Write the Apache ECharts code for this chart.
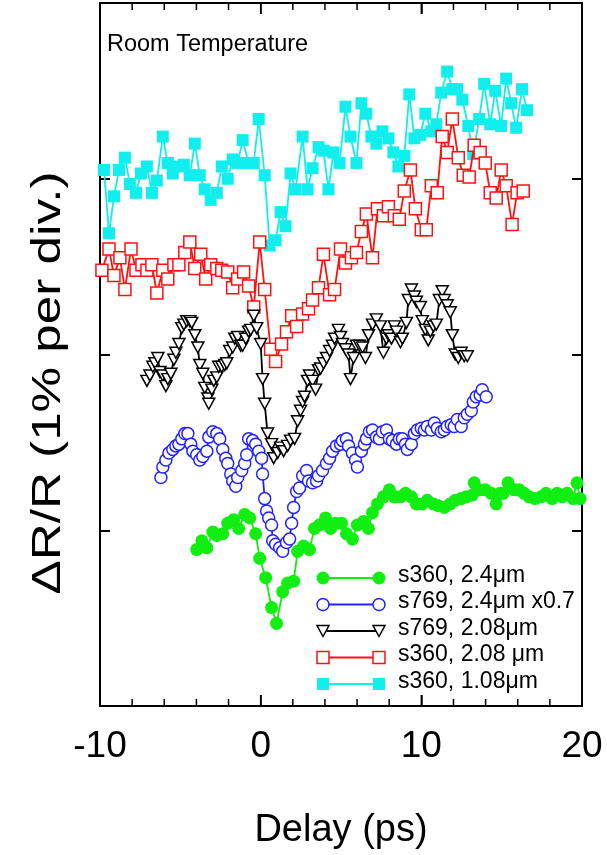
<!DOCTYPE html>
<html>
<head>
<meta charset="utf-8">
<script src="https://cdn.jsdelivr.net/npm/echarts@6/dist/echarts.min.js"></script>
<style>
html,body{margin:0;padding:0;background:#fff;}
#main{width:607px;height:855px;}
</style>
</head>
<body>
<div id="main"></div>
<script>
// s360, 1.08um (filled squares)
var delayCyan = [-9.75,-9.44,-9.13,-8.82,-8.45,-8.14,-7.76,-7.45,-7.08,-6.77,-6.46,-6.09,-5.78,-5.47,-5.09,-4.78,-4.41,-4.10,-3.79,-3.48,-3.11,-2.73,-2.42,-2.05,-1.74,-1.43,-1.12,-0.75,-0.43,-0.12,0.25,0.56,0.93,1.24,1.55,1.86,2.17,2.61,2.92,3.23,3.60,3.91,4.22,4.53,4.91,5.28,5.59,5.96,6.27,6.58,6.89,7.20,7.58,7.95,8.26,8.57,8.94,9.25,9.57,9.94,10.25,10.62,10.93,11.24,11.61,11.93,12.24,12.55,12.92,13.23,13.60,13.91,14.29,14.60,14.97,15.28,15.59,15.90,16.27,16.58];
var valCyan = [3.05,2.69,2.90,3.05,3.12,2.97,2.92,3.03,3.07,2.92,2.99,3.24,3.09,3.03,3.07,3.08,3.02,3.20,3.02,2.94,2.88,2.92,3.07,3.00,3.11,3.09,3.22,3.09,3.09,3.34,3.02,2.62,2.65,2.81,2.73,3.03,2.94,3.24,2.94,3.06,3.18,3.16,2.94,3.15,3.09,3.41,3.24,3.09,3.43,3.37,3.24,3.20,3.27,3.23,3.15,3.07,3.13,3.48,3.23,3.25,3.37,3.27,3.31,3.49,3.61,3.51,3.51,3.45,3.30,3.14,3.34,3.54,3.31,3.50,3.30,3.57,3.43,3.29,3.51,3.39];

// s360, 2.08 um (open squares)
var delayRed = [-9.88,-9.44,-9.13,-8.76,-8.45,-8.07,-7.76,-7.39,-7.08,-6.77,-6.46,-6.09,-5.78,-5.40,-5.09,-4.72,-4.41,-4.10,-3.73,-3.42,-3.11,-2.73,-2.42,-2.05,-1.74,-1.43,-1.06,-0.75,-0.43,-0.06,0.25,0.62,0.93,1.30,1.61,1.93,2.24,2.61,2.98,3.23,3.60,3.91,4.29,4.60,4.97,5.28,5.65,5.96,6.27,6.58,6.96,7.27,7.64,7.95,8.32,8.63,8.94,9.32,9.63,10.00,10.31,10.62,10.99,11.30,11.61,11.93,12.30,12.61,12.98,13.29,13.66,13.98,14.29,14.66,14.97,15.28,15.65,15.96,16.34];
var valRed = [2.48,2.60,2.45,2.55,2.37,2.60,2.48,2.51,2.48,2.51,2.35,2.48,2.43,2.51,2.51,2.58,2.64,2.49,2.57,2.43,2.51,2.49,2.48,2.47,2.38,2.43,2.47,2.39,2.27,2.64,2.37,2.03,1.96,2.06,2.13,2.22,2.16,2.23,2.26,2.31,2.38,2.57,2.34,2.37,2.60,2.52,2.55,2.58,2.70,2.80,2.55,2.83,2.79,2.84,2.79,2.77,2.93,3.05,2.83,2.71,2.71,2.96,2.92,3.24,3.15,3.34,3.12,3.02,3.01,3.19,3.15,3.09,2.92,2.89,3.05,2.96,2.74,2.92,2.93];

// s769, 2.08um (open down triangles)
var delayBlack = [-7.08,-6.89,-6.71,-6.58,-6.40,-6.27,-6.09,-5.90,-5.78,-5.59,-5.40,-5.28,-5.09,-4.91,-4.78,-4.60,-4.41,-4.29,-4.10,-3.91,-3.79,-3.60,-3.48,-3.29,-3.23,-3.04,-2.92,-2.73,-2.61,-2.42,-2.24,-2.11,-1.93,-1.74,-1.61,-1.43,-1.24,-1.12,-0.93,-0.75,-0.62,-0.43,-0.25,0.00,0.12,0.25,0.43,0.68,0.81,1.06,1.24,1.43,1.68,1.86,2.11,2.30,2.48,2.61,2.73,2.92,3.04,3.23,3.42,3.60,3.73,3.91,4.10,4.29,4.47,4.60,4.84,4.97,5.09,5.28,5.47,5.59,5.78,5.96,6.15,6.34,6.52,6.71,6.96,7.20,7.45,7.64,7.83,7.95,8.14,8.32,8.45,8.70,8.82,9.07,9.19,9.38,9.57,9.69,9.94,10.06,10.25,10.43,10.56,10.75,10.93,11.12,11.30,11.43,11.61,11.80,11.93,12.11,12.30,12.48,12.67,12.86];
var valBlack = [1.85,1.88,1.93,1.95,1.98,1.90,1.88,1.82,1.86,1.89,1.97,2.01,2.06,2.15,2.17,2.19,2.19,2.18,2.11,2.04,1.94,1.89,1.81,1.75,1.72,1.80,1.85,1.87,1.93,1.93,1.94,1.95,2.02,2.04,2.09,2.10,2.05,2.05,2.09,2.13,2.14,2.22,2.15,2.06,1.86,1.72,1.55,1.49,1.41,1.44,1.47,1.45,1.48,1.51,1.52,1.62,1.68,1.73,1.76,1.85,1.88,1.85,1.80,1.91,1.92,1.95,1.98,2.02,2.05,2.09,2.14,2.10,2.06,2.03,2.00,1.86,1.98,2.05,2.05,2.04,1.98,2.11,2.17,2.20,2.16,2.01,2.09,2.11,2.09,2.16,2.13,2.07,2.09,2.18,2.31,2.37,2.33,2.30,2.27,2.19,2.14,2.08,2.13,2.16,2.17,2.31,2.36,2.31,2.28,2.24,2.11,2.00,1.98,2.01,1.99,1.99];

// s769, 2.4um x0.7 (open circles)
var delayBlue = [-6.21,-6.09,-5.90,-5.71,-5.47,-5.28,-5.09,-4.91,-4.72,-4.53,-4.35,-4.22,-3.98,-3.79,-3.60,-3.35,-3.23,-2.98,-2.73,-2.55,-2.36,-2.17,-2.05,-1.86,-1.74,-1.55,-1.43,-1.18,-0.99,-0.87,-0.75,-0.50,-0.31,-0.12,0.06,0.12,0.25,0.37,0.50,0.68,0.75,0.93,1.18,1.37,1.61,1.80,1.93,2.05,2.24,2.42,2.61,2.86,2.98,3.23,3.48,3.60,3.85,4.10,4.29,4.47,4.72,4.97,5.09,5.34,5.47,5.71,5.90,6.02,6.27,6.46,6.58,6.77,6.96,7.20,7.39,7.58,7.83,8.01,8.20,8.45,8.63,8.82,9.01,9.13,9.38,9.57,9.75,10.00,10.19,10.37,10.62,10.81,10.99,11.24,11.43,11.61,11.86,12.05,12.24,12.48,12.67,12.86,13.11,13.23,13.42,13.66,13.79,14.04];
var valBlue = [1.30,1.36,1.40,1.44,1.46,1.48,1.49,1.52,1.55,1.55,1.49,1.45,1.43,1.40,1.42,1.45,1.53,1.56,1.55,1.52,1.46,1.41,1.38,1.32,1.28,1.25,1.30,1.34,1.38,1.43,1.52,1.51,1.49,1.45,1.41,1.32,1.18,1.11,1.07,1.03,0.94,0.92,0.90,0.88,0.93,0.95,1.04,1.13,1.22,1.24,1.31,1.34,1.28,1.27,1.28,1.31,1.34,1.38,1.41,1.45,1.48,1.49,1.51,1.52,1.48,1.44,1.40,1.36,1.45,1.49,1.52,1.56,1.57,1.53,1.52,1.56,1.57,1.52,1.51,1.49,1.52,1.52,1.49,1.46,1.49,1.55,1.57,1.58,1.57,1.59,1.57,1.61,1.58,1.56,1.57,1.59,1.60,1.59,1.63,1.59,1.64,1.66,1.68,1.73,1.76,1.77,1.80,1.76];

// s360, 2.4um (filled circles)
var delayGreen = [-3.98,-3.66,-3.35,-2.98,-2.73,-2.36,-2.05,-1.68,-1.37,-0.99,-0.68,-0.31,-0.06,0.31,0.68,0.99,1.37,1.68,2.05,2.30,2.67,3.04,3.35,3.66,4.04,4.35,4.66,5.03,5.34,5.71,6.02,6.40,6.71,6.96,7.27,7.64,8.01,8.32,8.70,9.01,9.38,9.69,10.06,10.37,10.75,11.06,11.43,11.80,12.11,12.48,12.80,13.17,13.29,13.60,13.98,14.35,14.66,14.91,15.09,15.40,15.78,16.09,16.40,16.71,17.08,17.45,17.76,18.14,18.45,18.76,19.07,19.44,19.69,19.88];
var valGreen = [0.89,0.94,0.90,0.99,0.97,0.98,1.04,1.06,1.01,1.09,1.07,0.98,0.84,0.73,0.56,0.47,0.65,0.70,0.71,0.88,0.91,0.89,1.01,1.03,1.07,1.01,1.04,1.04,0.98,0.95,1.03,1.05,1.01,1.10,1.15,1.19,1.23,1.19,1.19,1.21,1.19,1.15,1.15,1.17,1.15,1.14,1.13,1.15,1.17,1.18,1.19,1.20,1.27,1.23,1.23,1.21,1.15,1.21,1.21,1.27,1.23,1.23,1.21,1.19,1.18,1.19,1.21,1.18,1.21,1.19,1.21,1.18,1.27,1.18];

var xTicks = [-10, 0, 10, 20];
var xMinorTicks = [-8, -6, -4, -2, 2, 4, 6, 8, 12, 14, 16, 18];
var names = ['s360, 2.4\u03bcm', 's769, 2.4\u03bcm x0.7', 's769, 2.08\u03bcm', 's360, 2.08 \u03bcm', 's360, 1.08\u03bcm'];
var colors = ['#11ee11', '#2222ff', '#000000', '#ff1111', '#11eeee'];
var symbols = ['circle', 'circle', 'triangle', 'rect', 'rect'];
var symSizes = [13, 12, 12, 12, 12];
var filled = [true, false, false, false, true];
var xs = [delayGreen, delayBlue, delayBlack, delayRed, delayCyan];
var ys = [valGreen, valBlue, valBlack, valRed, valCyan];

var FONT = 'Liberation Sans, Arial, sans-serif';

function pairs(a, b) {
	var out = [];
	for (var i = 0; i < a.length; i++) out.push([a[i], b[i]]);
	return out;
}

var series = [];
// draw back to front: cyan first so green ends on top
for (var k = names.length - 1; k >= 0; k--) {
	series.push({
		name : names[k],
		type : 'line',
		data : pairs(xs[k], ys[k]),
		symbol : symbols[k],
		symbolSize : symbols[k] == 'triangle' ? [symSizes[k], symSizes[k] - 1] : symSizes[k],
		symbolRotate : symbols[k] == 'triangle' ? 180 : 0,
		showAllSymbol : true,
		lineStyle : { color : colors[k], width : 1.8 },
		itemStyle : {
			color : filled[k] ? colors[k] : '#fff',
			borderColor : colors[k],
			borderWidth : filled[k] ? 0 : 1.5
		},
		emphasis : { disabled : true },
		z : 2 + (names.length - k)
	});
}

// legend drawn Origin style: marker at both ends of the line
var graphics = [];
var lgY0 = 578, lgStep = 26.5, lgX1 = 323, lgX2 = 379;
function marker(k, x, y) {
	var r = symSizes[k] / 2;
	var st = { fill : filled[k] ? colors[k] : '#fff', stroke : colors[k], lineWidth : filled[k] ? 0 : 1.5 };
	if (symbols[k] == 'circle') return { type : 'circle', shape : { cx : x, cy : y, r : r }, style : st, z : 20 };
	if (symbols[k] == 'rect') return { type : 'rect', shape : { x : x - r, y : y - r, width : 2 * r, height : 2 * r }, style : st, z : 20 };
	return { type : 'polygon', shape : { points : [[x - r, y - r + 0.5], [x + r, y - r + 0.5], [x, y + r - 0.5]] }, style : st, z : 20 };
}
for (var i = 0; i < names.length; i++) {
	var yy = lgY0 + i * lgStep;
	graphics.push({ type : 'line', shape : { x1 : lgX1, y1 : yy, x2 : lgX2, y2 : yy }, style : { stroke : colors[i], lineWidth : 1.8 }, z : 19 });
	graphics.push(marker(i, lgX1, yy));
	graphics.push(marker(i, lgX2, yy));
	graphics.push({ type : 'text', left : 398, top : yy - 14, style : { text : names[i], fill : '#000', font : '23px ' + FONT }, z : 20 });
}
graphics.push({ type : 'text', left : 107, top : 33, style : { text : 'Room Temperature', fill : '#000', font : '23.5px ' + FONT }, z : 20 });
// y axis title, rotated and stretched along its length
graphics.push({
	type : 'text', x : 49, y : 383, rotation : Math.PI / 2, scaleX : 1.28,
	style : { text : '\u0394R/R (1% per div.)', fill : '#000', font : '40px ' + FONT, align : 'center', verticalAlign : 'middle' },
	z : 20
});

function xAx(pos, withLabels) {
	var ax = {
		type : 'value', position : pos, min : -10, max : 20, interval : 10,
		axisLine : { show : true, onZero : false, lineStyle : { color : '#000', width : 2 } },
		axisTick : { show : true, inside : true, length : 11, lineStyle : { color : '#000', width : 1.5 } },
		splitLine : { show : false },
		axisLabel : { show : false }
	};
	if (withLabels) {
		ax.axisLabel = { show : true, fontSize : 37, color : '#000', fontFamily : FONT, margin : 22 };
		ax.name = 'Delay (ps)';
		ax.nameLocation = 'middle';
		ax.nameGap = 106;
		ax.nameTextStyle = { fontSize : 38, color : '#000', fontFamily : FONT };
	}
	return ax;
}
function yAx(pos) {
	return {
		type : 'value', position : pos, min : 0, max : 4, interval : 1,
		axisLine : { show : true, onZero : false, lineStyle : { color : '#000', width : 2 } },
		axisTick : { show : true, inside : true, length : 10, lineStyle : { color : '#000', width : 2 } },
		splitLine : { show : false },
		axisLabel : { show : false }
	};
}

var myChart = echarts.init(document.getElementById('main'));
var option = {
	backgroundColor : '#fff',
	animation : false,
	grid : { left : 100, right : 25, top : 3, bottom : 149 },
	xAxis : [ xAx('bottom', true), xAx('top', false) ],
	yAxis : [ yAx('left'), yAx('right') ],
	graphic : graphics,
	series : series
};
myChart.setOption(option, true);

// x ticks on bottom and top frame, placed through the axis scale
var yBot = myChart.convertToPixel({ yAxisIndex : 0 }, 0);
var yTop = myChart.convertToPixel({ yAxisIndex : 0 }, 4);
function tickLine(v, len) {
	var px = myChart.convertToPixel({ xAxisIndex : 0 }, v);
	var st = { stroke : '#000', lineWidth : 1.5 };
	graphics.push({ type : 'line', shape : { x1 : px, y1 : yBot, x2 : px, y2 : yBot - len }, style : st, z : 30 });
	graphics.push({ type : 'line', shape : { x1 : px, y1 : yTop, x2 : px, y2 : yTop + len }, style : st, z : 30 });
}
xTicks.forEach(function(v) { tickLine(v, 11); });
xMinorTicks.forEach(function(v) { tickLine(v, 7); });
myChart.setOption({ graphic : graphics });
</script>
</body>
</html>
